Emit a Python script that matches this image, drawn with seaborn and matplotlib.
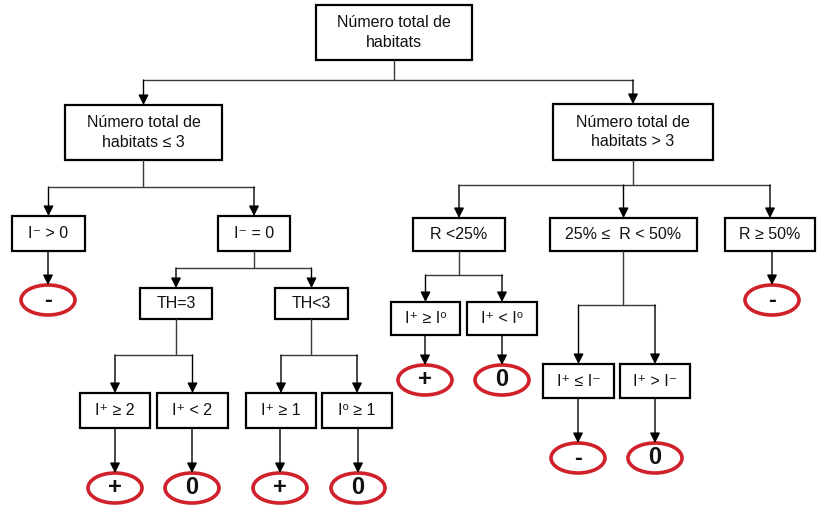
import matplotlib.pyplot as plt
import seaborn as sns
from matplotlib.patches import Rectangle, Ellipse

# decision nodes (text)
node_labels = [
    'Número total de\nhabitats',
    'Número total de\nhabitats ≤ 3', 'Número total de\nhabitats > 3',
    'I⁻ > 0', 'I⁻ = 0', 'TH=3', 'TH<3',
    'I⁺ ≥ 2', 'I⁺ < 2', 'I⁺ ≥ 1', 'I⁰ ≥ 1',
    'R <25%', '25% ≤  R < 50%', 'R ≥ 50%',
    'I⁺ ≥ I⁰', 'I⁺ < I⁰', 'I⁺ ≤ I⁻', 'I⁺ > I⁻',
]
# outcome symbols in the red ellipses
outcome_labels = ['-', '+', '0', '+', '0', '-', '+', '0', '-', '0']

# layout in pixel units: box (x0, y0, x1, y1)
node_boxes = [
    (316, 5, 472, 60),
    (65, 105, 222, 160), (553, 104, 713, 160),
    (12, 216, 85, 251), (218, 216, 290, 251), (140, 288, 212, 319), (275, 288, 348, 319),
    (80, 393, 150, 428), (157, 393, 228, 428), (246, 393, 316, 428), (322, 393, 392, 428),
    (413, 218, 505, 251), (550, 218, 697, 251), (725, 218, 815, 251),
    (391, 302, 460, 335), (467, 302, 537, 335), (543, 364, 614, 398), (620, 364, 690, 398),
]
outcome_pos = [(48, 300), (115, 488), (192, 488), (280, 488), (358, 488),
               (772, 300), (425, 380), (502, 380), (578, 458), (655, 458)]
outcome_parent = [3, 7, 8, 9, 10, 13, 14, 15, 16, 17]

# tree: parent -> (y of horizontal bar, children)
branches = [(0, 80, [1, 2]), (1, 187, [3, 4]), (4, 268, [5, 6]),
            (5, 355, [7, 8]), (6, 355, [9, 10]), (2, 185, [11, 12, 13]),
            (11, 275, [14, 15]), (12, 305, [16, 17])]

sns.set_style('white')
plt.rcParams['font.family'] = ['Liberation Sans Narrow', 'Liberation Sans', 'DejaVu Sans']

fig = plt.figure(figsize=(8.2, 5.05), dpi=100)
ax = fig.add_axes([0, 0, 1, 1])
ax.set_xlim(0, 820)
ax.set_ylim(505, 0)
ax.axis('off')

line_c = '#3a3a3a'
arrow_kw = dict(arrowstyle='-|>', color='black', lw=1.0, mutation_scale=15,
                shrinkA=0, shrinkB=0)


def center_x(b):
    return (b[0] + b[2]) / 2


for lab, b in zip(node_labels, node_boxes):
    ax.add_patch(Rectangle((b[0], b[1]), b[2] - b[0], b[3] - b[1],
                           fill=False, ec='black', lw=1.6))
    ax.text(center_x(b), (b[1] + b[3]) / 2, lab, ha='center', va='center',
            fontsize=11.5, linespacing=1.35, color='#111111')

for p, ybar, kids in branches:
    pb = node_boxes[p]
    px = center_x(pb)
    ax.plot([px, px], [pb[3], ybar], color=line_c, lw=1.0)
    xs = [center_x(node_boxes[k]) for k in kids]
    ax.plot([min(xs), max(xs)], [ybar, ybar], color=line_c, lw=1.0)
    for k, x in zip(kids, xs):
        ax.annotate('', xy=(x, node_boxes[k][1]), xytext=(x, ybar), arrowprops=arrow_kw)

for lab, (x, y), p in zip(outcome_labels, outcome_pos, outcome_parent):
    pb = node_boxes[p]
    ax.annotate('', xy=(x, y - 15), xytext=(x, pb[3]), arrowprops=arrow_kw)
    ax.add_patch(Ellipse((x, y), 54, 30, fill=False, ec='#d0202a', lw=2.6))
    ax.text(x, y, lab, ha='center', va='center', fontsize=17,
            fontweight='bold', color='#111111')

fig.savefig('out.png', dpi=100)
